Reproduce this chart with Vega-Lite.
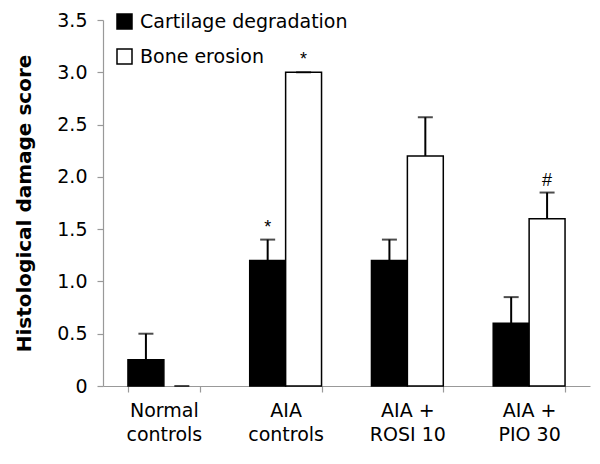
{
  "$schema": "https://vega.github.io/schema/vega-lite/v6.json",
  "width": 487,
  "height": 366,
  "autosize": {"type": "none"},
  "padding": {"left": 103, "top": 20, "right": 10, "bottom": 78},
  "config": {
    "font": "DejaVu Sans",
    "view": {"stroke": null},
    "axis": {"domainColor": "#999", "tickColor": "#999", "labelColor": "black", "grid": false, "domainWidth": 1.2, "tickWidth": 1.2}
  },
  "data": {
    "values": [
      {"group": "Normal|controls", "series": "Cartilage degradation", "value": 0.25, "upper": 0.5, "note": ""},
      {"group": "Normal|controls", "series": "Bone erosion", "value": 0, "upper": 0, "note": ""},
      {"group": "AIA|controls", "series": "Cartilage degradation", "value": 1.2, "upper": 1.4, "note": "*"},
      {"group": "AIA|controls", "series": "Bone erosion", "value": 3.0, "upper": 3.0, "note": "*"},
      {"group": "AIA +|ROSI 10", "series": "Cartilage degradation", "value": 1.2, "upper": 1.4, "note": ""},
      {"group": "AIA +|ROSI 10", "series": "Bone erosion", "value": 2.2, "upper": 2.57, "note": ""},
      {"group": "AIA +|PIO 30", "series": "Cartilage degradation", "value": 0.6, "upper": 0.85, "note": ""},
      {"group": "AIA +|PIO 30", "series": "Bone erosion", "value": 1.6, "upper": 1.85, "note": "#"}
    ]
  },
  "encoding": {
    "x": {
      "field": "group", "type": "nominal", "sort": null,
      "scale": {"paddingInner": 0.41, "paddingOuter": 0.205},
      "axis": {"title": null, "labelAngle": 0, "labelExpr": "split(datum.label, '|')", "labelFontSize": 19, "labelLineHeight": 24, "tickBand": "extent", "tickSize": 6, "labelPadding": 9}
    },
    "xOffset": {"field": "series", "type": "nominal", "sort": ["Cartilage degradation", "Bone erosion"]}
  },
  "layer": [
    {
      "transform": [{"filter": "datum.value > 0"}],
      "mark": {"type": "bar", "stroke": "black", "strokeWidth": 1.5},
      "encoding": {
        "y": {
          "field": "value", "type": "quantitative",
          "scale": {"domain": [0, 3.5], "nice": false},
          "axis": {"title": "Histological damage score", "titleFontSize": 20, "titleFontWeight": "bold", "titleColor": "black", "titlePadding": 22, "values": [0, 0.5, 1, 1.5, 2, 2.5, 3, 3.5], "labelExpr": "datum.value == 0 ? '0' : format(datum.value, '.1f')", "labelFontSize": 19, "tickSize": 6, "labelPadding": 10}
        },
        "color": {
          "field": "series", "type": "nominal",
          "scale": {"domain": ["Cartilage degradation", "Bone erosion"], "range": ["black", "white"]},
          "legend": {"title": null, "orient": "none", "legendX": 12, "legendY": -8, "symbolType": "square", "symbolSize": 225, "symbolStrokeColor": "black", "symbolStrokeWidth": 1.5, "labelFontSize": 19, "labelColor": "black", "labelLimit": 0, "rowPadding": 14, "labelOffset": 6}
        }
      }
    },
    {
      "mark": {"type": "rule", "strokeWidth": 2, "color": "black"},
      "encoding": {
        "y": {"field": "value", "type": "quantitative"},
        "y2": {"field": "upper"}
      }
    },
    {
      "mark": {"type": "tick", "thickness": 2, "size": 15, "color": "black", "orient": "horizontal"},
      "encoding": {
        "y": {"field": "upper", "type": "quantitative"}
      }
    },
    {
      "mark": {"type": "text", "fontSize": 18, "font": "Liberation Sans", "color": "black", "baseline": "alphabetic", "dy": -7},
      "encoding": {
        "y": {"field": "upper", "type": "quantitative"},
        "text": {"field": "note"}
      }
    }
  ]
}
